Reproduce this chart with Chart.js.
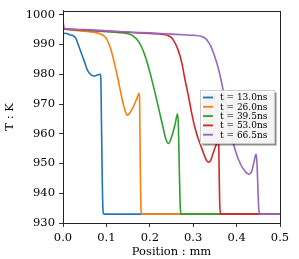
<!DOCTYPE html>
<html>
<head>
<meta charset="utf-8">
<script src="https://cdn.jsdelivr.net/npm/chart.js@4/dist/chart.umd.min.js"></script>
<style>
  html, body { margin: 0; padding: 0; background: #fff; }
  #wrap { width: 299px; height: 259px; }
</style>
</head>
<body>
<div id="wrap"><canvas id="chart" width="299" height="259"></canvas></div>
<script>
// data (position in mm, temperature in K)
const x13 = [0, 0.005, 0.015, 0.025, 0.03, 0.035, 0.04, 0.045, 0.05, 0.055, 0.06, 0.065, 0.07, 0.075, 0.08, 0.086, 0.087, 0.089, 0.091, 0.093, 0.095, 0.5]
const t13 = [993.5, 993.8, 993.3, 992.8, 992, 990, 988, 986, 984, 981.8, 980.5, 979.8, 979.4, 979.5, 979.8, 980, 979, 960, 940, 933.2, 933, 933]

const x26 = [0, 0.02, 0.04, 0.06, 0.075, 0.085, 0.095, 0.1, 0.105, 0.11, 0.115, 0.12, 0.125, 0.13, 0.135, 0.14, 0.145, 0.148, 0.152, 0.16, 0.17, 0.175, 0.1765, 0.178, 0.18, 0.182, 0.5]
const t26 = [995.2, 994.9, 994.6, 994.3, 994, 993.6, 992.8, 992, 990.5, 988.5, 985.8, 982.8, 979.5, 976, 972.5, 969.3, 967, 966.2, 966.6, 968.5, 971.8, 973.6, 972, 950, 934, 933, 933]

const x39 = [0, 0.05, 0.1, 0.13, 0.15, 0.16, 0.17, 0.18, 0.19, 0.2, 0.21, 0.22, 0.23, 0.237, 0.243, 0.25, 0.258, 0.264, 0.266, 0.268, 0.27, 0.272, 0.5]
const t39 = [995.2, 994.8, 994.3, 994, 993.6, 993, 991.8, 989.5, 985.8, 980.8, 975, 968.8, 962.5, 958.2, 956.7, 958.8, 963, 966.7, 962, 948, 936, 933, 933]

const x53 = [0, 0.05, 0.1, 0.15, 0.2, 0.23, 0.24, 0.25, 0.255, 0.26, 0.265, 0.27, 0.275, 0.28, 0.285, 0.29, 0.295, 0.3, 0.305, 0.31, 0.315, 0.32, 0.325, 0.33, 0.335, 0.34, 0.345, 0.35, 0.355, 0.358, 0.359, 0.36, 0.361, 0.363, 0.5]
const t53 = [995.2, 994.9, 994.5, 994.1, 993.7, 993.4, 993.1, 992.3, 991.3, 990, 988.2, 986, 983, 979, 975.5, 972, 968, 964.5, 961.5, 959, 957, 955, 953, 951.2, 950.4, 951, 953, 955.2, 957, 957.8, 955, 945, 937, 933, 933]

const x66 = [0, 0.003, 0.05, 0.1, 0.15, 0.2, 0.25, 0.3, 0.32, 0.33, 0.335, 0.34, 0.345, 0.35, 0.355, 0.36, 0.365, 0.37, 0.375, 0.38, 0.385, 0.39, 0.4, 0.41, 0.42, 0.428, 0.435, 0.44, 0.445, 0.447, 0.449, 0.451, 0.453, 0.5]
const t66 = [998, 995.4, 995, 994.6, 994.2, 993.9, 993.5, 993.1, 992.7, 991.8, 990.8, 989.6, 987.8, 985.8, 983.5, 980.8, 977.5, 974, 970, 965.8, 961.8, 958.3, 953, 949.5, 947.3, 946.4, 947.5, 950.5, 953.2, 950, 942, 935, 933, 933]

const labels = ["t = 13.0ns", "t = 26.0ns", "t = 39.5ns", "t = 53.0ns", "t = 66.5ns"]
const colors = ["#1f77b4", "#ff7f0e", "#2ca02c", "#d62728", "#9467bd"]
const xTicks = [0, 0.1, 0.2, 0.3, 0.4, 0.5]
const yTicks = [930, 940, 950, 960, 970, 980, 990, 1000]

const series = [[x13, t13], [x26, t26], [x39, t39], [x53, t53], [x66, t66]]
const serif = "'DejaVu Serif', serif"

// frame around the plot and a matplotlib-style legend with shadow
const framePlugin = {
  id: "frame",
  afterDraw(chart) {
    const { ctx, chartArea: a } = chart
    ctx.save()
    ctx.strokeStyle = "#222"
    ctx.lineWidth = 1
    ctx.strokeRect(Math.round(a.left) + 0.5, Math.round(a.top) + 0.5, Math.round(a.right - a.left), Math.round(a.bottom - a.top))

    // legend
    const bx = 200.5, by = 90.5, bw = 74, bh = 53
    ctx.fillStyle = "rgba(0,0,0,0.45)"
    ctx.fillRect(bx + 2, by + 2, bw, bh)
    ctx.fillStyle = "rgba(255,255,255,0.9)"
    ctx.fillRect(bx, by, bw, bh)
    ctx.strokeStyle = "#ccc"
    ctx.strokeRect(bx, by, bw, bh)
    ctx.font = "9px " + serif
    ctx.textBaseline = "middle"
    chart.data.datasets.forEach((ds, i) => {
      const y = 97.5 + i * 9.3
      ctx.strokeStyle = ds.borderColor
      ctx.lineWidth = 1.8
      ctx.beginPath()
      ctx.moveTo(203, y)
      ctx.lineTo(213, y)
      ctx.stroke()
      ctx.fillStyle = "#000"
      ctx.fillText(ds.label, 220, y + 0.5)
    })
    ctx.restore()
  }
}

const chart = new Chart(document.getElementById("chart"), {
  type: "line",
  data: {
    datasets: series.map((s, i) => ({
      label: labels[i],
      data: s[0].map((x, j) => ({ x: x, y: s[1][j] })),
      borderColor: colors[i],
      backgroundColor: colors[i],
      borderWidth: 1.6,
      pointRadius: 0,
      tension: 0,
      cubicInterpolationMode: "monotone",
      order: 4 - i,
    })),
  },
  options: {
    responsive: false,
    animation: false,
    layout: { padding: { top: 9, right: 19, left: 0, bottom: 0 } },
    plugins: { legend: { display: false }, tooltip: { enabled: false } },
    scales: {
      x: {
        type: "linear",
        min: 0,
        max: 0.5,
        afterBuildTicks: (s) => { s.ticks = xTicks.map((v) => ({ value: v })) },
        afterFit: (s) => { s.height = 36 },
        grid: { drawOnChartArea: false, drawTicks: true, tickLength: 4, color: "#333" },
        border: { display: true, color: "#333", width: 1 },
        ticks: { color: "#000", padding: 4, maxRotation: 0, font: { family: serif, size: 11.5 }, callback: (v) => v.toFixed(1) },
        title: { display: true, text: "Position : mm", color: "#000", padding: { top: 0, bottom: 0 }, font: { family: serif, size: 11.5 } },
      },
      y: {
        min: 930,
        max: 1001.3,
        afterBuildTicks: (s) => { s.ticks = yTicks.map((v) => ({ value: v })) },
        afterFit: (s) => { s.width = 63 },
        grid: { drawOnChartArea: false, drawTicks: true, tickLength: 4, color: "#333" },
        border: { display: true, color: "#333", width: 1 },
        ticks: { color: "#000", padding: 4, font: { family: serif, size: 11.5 }, callback: (v) => String(v) },
        title: { display: true, text: "T : K", color: "#000", padding: { top: 3.5, bottom: 0 }, font: { family: serif, size: 11.5 } },
      },
    },
  },
  plugins: [framePlugin],
})
</script>
</body>
</html>
